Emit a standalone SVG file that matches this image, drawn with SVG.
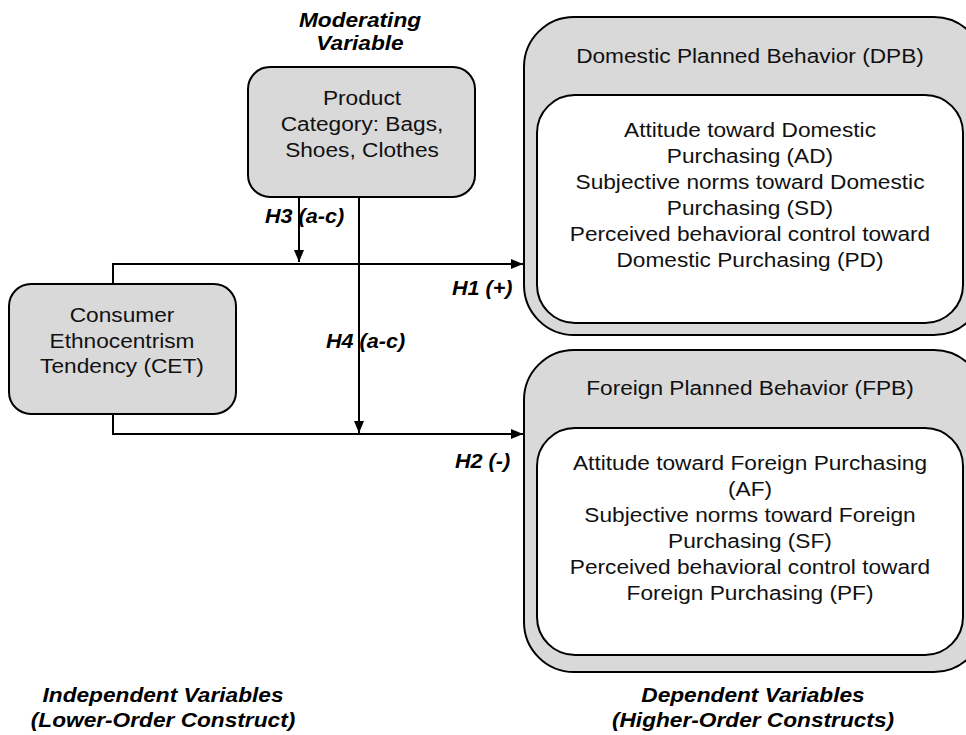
<svg xmlns="http://www.w3.org/2000/svg" width="966" height="735" viewBox="0 0 966 735">
<style>
.box{fill:#d9d9d9;stroke:#000;stroke-width:2}
.inner{fill:#fff;stroke:#000;stroke-width:2}
.t{font-family:"Liberation Sans",Arial,sans-serif;font-size:21px;fill:#111;text-anchor:middle}
.bi{font-family:"Liberation Sans",Arial,sans-serif;font-size:21px;font-weight:bold;font-style:italic;fill:#000;text-anchor:middle}
.h{font-family:"Liberation Sans",Arial,sans-serif;font-size:20px;font-weight:bold;font-style:italic;fill:#000;text-anchor:start}
.ln{fill:none;stroke:#000;stroke-width:2}
</style>
<defs>
<marker id="arr" viewBox="0 0 12 10" refX="12" refY="5" markerWidth="12" markerHeight="10" markerUnits="userSpaceOnUse" orient="auto">
<path d="M0,0 L12,5 L0,10 Z" fill="#000"/>
</marker>
</defs>
<rect width="966" height="735" fill="#fff"/>

<g id="connectors">
<path class="ln" d="M113,284 V264 H523" marker-end="url(#arr)"/>
<path class="ln" d="M113,414 V434 H523" marker-end="url(#arr)"/>
<path class="ln" d="M299,197 V262" marker-end="url(#arr)"/>
<path class="ln" d="M359,197 V433" marker-end="url(#arr)"/>
<text class="h" transform="translate(265,0) scale(1.08,1)" y="223">H3 (a-c)</text>
<text class="h" transform="translate(326,0) scale(1.08,1)" y="348">H4 (a-c)</text>
<text class="h" transform="translate(452,0) scale(1.08,1)" y="295">H1 (+)</text>
<text class="h" transform="translate(455,0) scale(1.08,1)" y="468">H2 (-)</text>
</g>

<g id="moderating-label">
<text class="bi" transform="translate(360,0) scale(1.08,1)" y="27">Moderating</text>
<text class="bi" transform="translate(360,0) scale(1.08,1)" y="50">Variable</text>
</g>

<g id="product">
<rect class="box" x="248" y="67" width="227" height="130" rx="22"/>
<text class="t" transform="translate(362,0) scale(1.08,1)"><tspan x="0" y="105">Product</tspan><tspan x="0" y="131">Category: Bags,</tspan><tspan x="0" y="157">Shoes, Clothes</tspan></text>
</g>

<g id="cet">
<rect class="box" x="9" y="284" width="227" height="130" rx="22"/>
<text class="t" transform="translate(122,0) scale(1.08,1)"><tspan x="0" y="322">Consumer</tspan><tspan x="0" y="348">Ethnocentrism</tspan><tspan x="0" y="373">Tendency (CET)</tspan></text>
</g>

<g id="dpb">
<rect class="box" x="524" y="17" width="460" height="318" rx="50"/>
<text class="t" transform="translate(750,0) scale(1.08,1)" y="63">Domestic Planned Behavior (DPB)</text>
<rect class="inner" x="537" y="95" width="426" height="228" rx="38"/>
<text class="t" transform="translate(750,0) scale(1.08,1)"><tspan x="0" y="137">Attitude toward Domestic</tspan><tspan x="0" y="163">Purchasing (AD)</tspan><tspan x="0" y="189">Subjective norms toward Domestic</tspan><tspan x="0" y="215">Purchasing (SD)</tspan><tspan x="0" y="241">Perceived behavioral control toward</tspan><tspan x="0" y="267">Domestic Purchasing (PD)</tspan></text>
</g>

<g id="fpb">
<rect class="box" x="524" y="350" width="460" height="322" rx="50"/>
<text class="t" transform="translate(750,0) scale(1.08,1)" y="395">Foreign Planned Behavior (FPB)</text>
<rect class="inner" x="537" y="428" width="426" height="227" rx="38"/>
<text class="t" transform="translate(750,0) scale(1.08,1)"><tspan x="0" y="470">Attitude toward Foreign Purchasing</tspan><tspan x="0" y="496">(AF)</tspan><tspan x="0" y="522">Subjective norms toward Foreign</tspan><tspan x="0" y="548">Purchasing (SF)</tspan><tspan x="0" y="574">Perceived behavioral control toward</tspan><tspan x="0" y="600">Foreign Purchasing (PF)</tspan></text>
</g>

<g id="independent-label">
<text class="bi" transform="translate(163,0) scale(1.08,1)" y="702">Independent Variables</text>
<text class="bi" transform="translate(163,0) scale(1.08,1)" y="727">(Lower-Order Construct)</text>
</g>

<g id="dependent-label">
<text class="bi" transform="translate(753,0) scale(1.08,1)" y="702">Dependent Variables</text>
<text class="bi" transform="translate(753,0) scale(1.08,1)" y="727">(Higher-Order Constructs)</text>
</g>
</svg>
